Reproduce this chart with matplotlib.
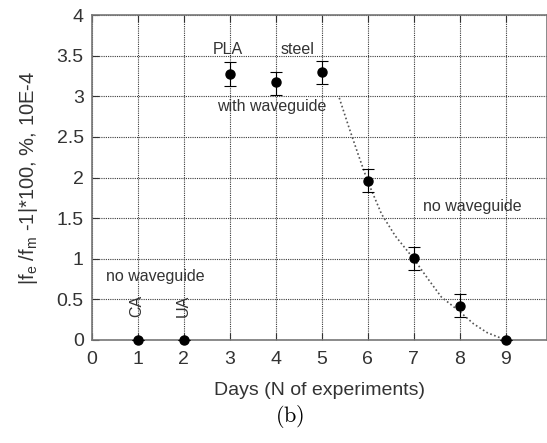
import matplotlib
matplotlib.use("Agg")
import matplotlib.pyplot as plt

plt.rcParams['font.family'] = ['Liberation Sans', 'DejaVu Sans']
plt.rcParams['mathtext.fontset'] = 'custom'
plt.rcParams['mathtext.rm'] = 'Liberation Sans'
plt.rcParams['mathtext.it'] = 'Liberation Sans'

# measured deviation per day
days = [1, 2, 3, 4, 5, 6, 7, 8, 9]
dev = [0.0, 0.0, 3.28, 3.17, 3.30, 1.96, 1.01, 0.42, 0.0]
err_lo = [0.0, 0.0, 0.15, 0.15, 0.15, 0.14, 0.15, 0.14, 0.0]
err_hi = [0.0, 0.0, 0.14, 0.13, 0.14, 0.14, 0.14, 0.15, 0.0]

# trend line for the no-waveguide days
trend_x = [5.38, 5.6, 5.8, 6.0, 6.3, 6.6, 7.0, 7.3, 7.6, 8.0, 8.3, 8.6, 9.0]
trend_y = [2.98, 2.60, 2.27, 1.95, 1.55, 1.28, 1.00, 0.76, 0.53, 0.35, 0.20, 0.09, 0.0]

xticks = [0, 1, 2, 3, 4, 5, 6, 7, 8, 9]
yticks = [0, 0.5, 1, 1.5, 2, 2.5, 3, 3.5, 4]

fig = plt.figure(figsize=(5.47, 4.43), dpi=100)
ax = fig.add_axes([92 / 547, 103 / 443, 455 / 547, 325 / 443])

ax.plot(trend_x, trend_y, linestyle=(0, (1, 1.5)), color='#555555', lw=1.2)
ax.errorbar(days, dev, yerr=[err_lo, err_hi], fmt='o', color='black',
            ms=6.5, capsize=4, elinewidth=0.8, capthick=0.8, clip_on=False,
            zorder=5)

ax.set_xlim(0, 9.9)
ax.set_ylim(0, 4)
ax.set_xticks(xticks)
ax.set_yticks(yticks)
ax.set_yticklabels(['0', '0.5', '1', '1.5', '2', '2.5', '3', '3.5', '4'])
ax.grid(True, linestyle=(0, (1, 1)), color='#3a3a3a', lw=0.8)
ax.tick_params(direction='in', length=5, labelsize=14, colors='#333333',
               top=True, pad=6)
ax.tick_params(axis='x', pad=8)
for s in ax.spines.values():
    s.set_color('#777777')
    s.set_linewidth(1.2)

ax.set_xlabel('Days (N of experiments)', fontsize=14, color='#333333',
              labelpad=10)
ax.set_ylabel(r'|f$_\mathrm{e}$ /f$_\mathrm{m}$ -1|*100, %, 10E-4',
              fontsize=14.5, color='#333333', labelpad=12)

tc = '#333333'
ax.text(2.96, 3.57, 'PLA', fontsize=11.5, ha='center', va='center', color=tc)
ax.text(4.48, 3.57, 'steel', fontsize=11.5, ha='center', va='center', color=tc)
ax.text(3.91, 2.87, 'with waveguide', fontsize=11.5, ha='center',
        va='center', color=tc)
ax.text(8.27, 1.64, 'no waveguide', fontsize=11.5, ha='center',
        va='center', color=tc)
ax.text(1.37, 0.78, 'no waveguide', fontsize=11.5, ha='center',
        va='center', color=tc)
ax.text(0.98, 0.42, 'CA', fontsize=11.5, ha='center', va='center',
        rotation=90, color=tc)
ax.text(1.98, 0.42, 'UA', fontsize=11.5, ha='center', va='center',
        rotation=90, color=tc)

fig.text(290 / 547, 1 - 416 / 443, r'$\mathrm{(b)}$', fontsize=16,
         ha='center', va='center', math_fontfamily='cm')

fig.savefig('out.png', dpi=100)
